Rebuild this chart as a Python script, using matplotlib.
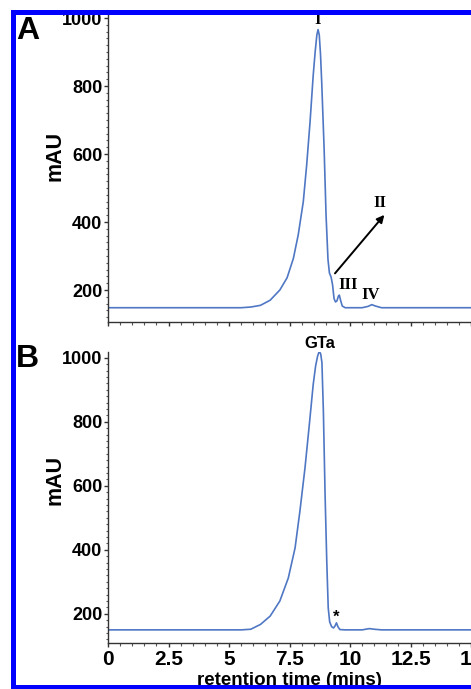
import matplotlib.pyplot as plt
from matplotlib.patches import Rectangle
from matplotlib.ticker import MultipleLocator

# Chromatogram A (retention time in min, absorbance in mAU)
time_a = [0, 5.5, 5.9, 6.3, 6.7, 7.1, 7.4, 7.66, 7.86, 8.07, 8.21, 8.35, 8.48,
          8.56, 8.63, 8.68, 8.73, 8.78, 8.83, 8.93, 9.01, 9.09, 9.15, 9.22,
          9.28, 9.34, 9.40, 9.46, 9.52, 9.56, 9.61, 9.68, 9.8, 10.5, 10.75,
          10.9, 11.05, 11.3, 15]
mau_a = [148, 148, 150, 155, 170, 200, 236, 293, 362, 460, 568, 695, 832,
         900, 950, 966, 950, 895, 813, 617, 421, 290, 250, 238,
         215, 175, 165, 168, 182, 185, 170, 153, 148, 148, 152,
         157, 153, 148, 148]

# Chromatogram B
time_b = [0, 5.5, 5.9, 6.3, 6.7, 7.1, 7.45, 7.73, 7.93, 8.14, 8.32, 8.48,
          8.58, 8.66, 8.73, 8.79, 8.84, 8.90, 8.97, 9.04, 9.10, 9.16, 9.24,
          9.32, 9.38, 9.44, 9.50, 9.58, 9.8, 10.5, 10.8, 11.0, 11.3, 15]
mau_b = [150, 150, 152, 167, 193, 240, 312, 406, 521, 656, 792, 917,
         975, 1005, 1021, 1012, 985, 833, 573, 364, 219, 175, 160,
         156, 162, 172, 160, 151, 150, 150, 154, 152, 150, 150]

y_ticks = [200, 400, 600, 800, 1000]
x_ticks = [0, 2.5, 5, 7.5, 10, 12.5, 15]
x_tick_labels = ["0", "2.5", "5", "7.5", "10", "12.5", "15"]

# peak labels for panel A (text, time, mAU)
peaks_a = [("I", 8.65, 994), ("III", 9.93, 215), ("IV", 10.85, 185)]

LINE = "#4f77c4"
SANS = "Liberation Sans"
SERIF = "Liberation Serif"

W, H = 471, 689
fig = plt.figure(figsize=(W / 100, H / 100), dpi=100)
plt.rcParams["font.family"] = SANS

ax_a = fig.add_axes([108 / W, 1 - 322 / H, 1 - 108 / W, 307.4 / H])
ax_b = fig.add_axes([108 / W, 1 - 643 / H, 1 - 108 / W, 290.6 / H])

for ax, t, y, ylim, ylab_y in [(ax_a, time_a, mau_a, (106, 1010), 0.54),
                               (ax_b, time_b, mau_b, (109, 1017), 0.56)]:
    ax.plot(t, y, color=LINE, lw=1.2)
    ax.set_xlim(0, 15)
    ax.set_ylim(*ylim)
    ax.spines["top"].set_visible(False)
    ax.spines["right"].set_visible(False)
    for s in ("left", "bottom"):
        ax.spines[s].set_color("#333333")
        ax.spines[s].set_linewidth(1.0)
    ax.set_yticks(y_ticks)
    ax.yaxis.set_minor_locator(MultipleLocator(20))
    ax.set_xticks(x_ticks)
    ax.xaxis.set_minor_locator(MultipleLocator(0.5))
    ax.tick_params(which="major", length=3, width=1, color="#333333", pad=1)
    ax.tick_params(which="minor", length=1.8, width=0.8, color="#555555")
    ax.tick_params(axis="y", labelsize=13)
    for lab in ax.get_yticklabels():
        lab.set_fontweight("bold")
    ax.set_ylabel("mAU", fontsize=15.5, fontweight="bold", va="center")
    ax.yaxis.set_label_coords(-0.146, ylab_y)

ax_a.set_xticklabels([])
ax_b.set_xticklabels(x_tick_labels, fontsize=15, fontweight="bold")
ax_b.tick_params(axis="x", pad=2)
ax_b.set_xlabel("retention time (mins)", fontsize=13.5, fontweight="bold",
                labelpad=2)

for text, t, y in peaks_a:
    ax_a.text(t, y, text, family=SERIF, fontweight="bold", fontsize=12,
              ha="center", va="center")
ax_a.text(11.24, 455, "II", family=SERIF, fontweight="bold", fontsize=12,
          ha="center", va="center")
ax_a.annotate("", xy=(11.42, 421), xytext=(9.38, 249),
              arrowprops=dict(arrowstyle="-|>", color="black", lw=1.4,
                              mutation_scale=11, shrinkA=0, shrinkB=0))

ax_b.text(8.76, 1045, "GTa", fontsize=12, fontweight="bold", ha="center",
          va="center", clip_on=False)
ax_b.text(9.42, 190, "*", fontsize=12, fontweight="bold", ha="center",
          va="center")

# panel letters
fig.text(16 / W, 1 - 16 / H, "A", fontsize=23, fontweight="bold",
         ha="left", va="top")
fig.text(16 / W, 1 - 344 / H, "B", fontsize=23, fontweight="bold",
         ha="left", va="top")

# blue frame (cropped on the right side)
for x0, y0, w, h in [(11, 10, W - 11, 5), (11, 10, 5, H - 10),
                     (11, 685, W - 11, 4)]:
    fig.add_artist(Rectangle((x0 / W, 1 - (y0 + h) / H), w / W, h / H,
                             transform=fig.transFigure, color="#0000ff",
                             zorder=20, lw=0))

fig.savefig("out.png", dpi=100)
